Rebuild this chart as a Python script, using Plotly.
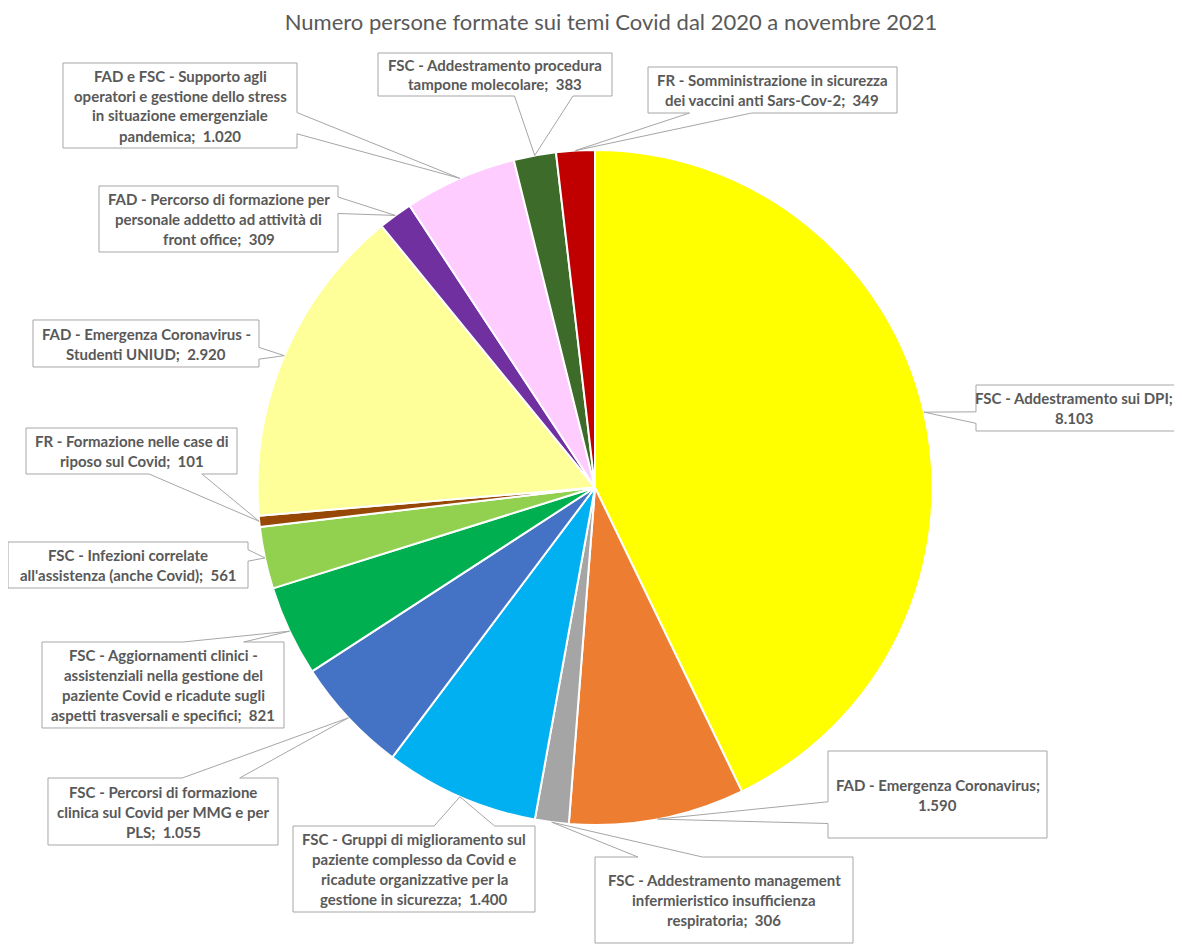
import math
import plotly.graph_objects as go

# ---------------- data ----------------
categories = [
    "FSC - Addestramento sui DPI",
    "FAD - Emergenza Coronavirus",
    "FSC - Addestramento management infermieristico insufficienza respiratoria",
    "FSC - Gruppi di miglioramento sul paziente complesso da Covid e ricadute organizzative per la gestione in sicurezza",
    "FSC - Percorsi di formazione clinica sul Covid per MMG e per PLS",
    "FSC - Aggiornamenti clinici - assistenziali nella gestione del paziente Covid e ricadute sugli aspetti trasversali e specifici",
    "FSC - Infezioni correlate all'assistenza (anche Covid)",
    "FR - Formazione nelle case di riposo sul Covid",
    "FAD - Emergenza Coronavirus - Studenti UNIUD",
    "FAD - Percorso di formazione per personale addetto ad attività di front office",
    "FAD e FSC - Supporto agli operatori e gestione dello stress in situazione emergenziale pandemica",
    "FSC - Addestramento procedura tampone molecolare",
    "FR - Somministrazione in sicurezza dei vaccini anti Sars-Cov-2",
]
values = [8103, 1590, 306, 1400, 1055, 821, 561, 101, 2920, 309, 1020, 383, 349]

# label wrapping (text lines of each callout); "{v}" is replaced by the value
label_lines = [
    ["FSC - Addestramento sui DPI;", "{v}"],
    ["FAD - Emergenza Coronavirus;", "{v}"],
    ["FSC - Addestramento management", "infermieristico insufficienza", "respiratoria;  {v}"],
    ["FSC - Gruppi di miglioramento sul", "paziente complesso da Covid e", "ricadute organizzative per la", "gestione in sicurezza;  {v}"],
    ["FSC - Percorsi di formazione", "clinica sul Covid per MMG e per", "PLS;  {v}"],
    ["FSC - Aggiornamenti clinici -", "assistenziali nella gestione del", "paziente Covid e ricadute sugli", "aspetti trasversali e specifici;  {v}"],
    ["FSC - Infezioni correlate", "all'assistenza (anche Covid);  {v}"],
    ["FR - Formazione nelle case di", "riposo sul Covid;  {v}"],
    ["FAD - Emergenza Coronavirus -", "Studenti UNIUD;  {v}"],
    ["FAD - Percorso di formazione per", "personale addetto ad attività di", "front office;  {v}"],
    ["FAD e FSC - Supporto agli", "operatori e gestione dello stress", "in situazione emergenziale", "pandemica;  {v}"],
    ["FSC - Addestramento procedura", "tampone molecolare;  {v}"],
    ["FR - Somministrazione in sicurezza", "dei vaccini anti Sars-Cov-2;  {v}"],
]

title_text = "Numero persone formate sui temi Covid dal 2020 a novembre 2021"

# ---------------- styles / layout ----------------
colors = ["#FFFF00", "#ED7D31", "#A5A5A5", "#00B0F0", "#4472C4", "#00B050",
          "#92D050", "#974706", "#FFFF99", "#7030A0", "#FFCCFF", "#3D6B2A", "#C00000"]

W, H = 1182, 948
OFF = 8  # page body margin: the figure starts 8px in from the top-left of the window
CX, CY, R = 595.0, 487.5, 337.5  # pie centre / radius in window pixels

# callout boxes (x0, y0, x1, y1) in window pixels, top-left origin
boxes = [
    (976, 385, 1192, 431),
    (828, 751, 1047, 838),
    (595, 857, 853, 943),
    (293, 826, 535, 912),
    (48, 778, 278, 845),
    (42, 642, 284, 728),
    (8, 542, 248, 588),
    (26, 428, 237, 474),
    (33, 320, 259, 367),
    (99, 186, 338, 252),
    (63, 63, 297, 148),
    (378, 53, 612, 96),
    (648, 67, 897, 113),
]
# horizontal nudge of the text inside a box (pixels)
text_dx = [-10, 0, 0, 0, 0, 0, 0, 0, 0, 0, 0, 0, 0]

LINE_H = 20
TEXT_COLOR = "#595959"
BORDER = "#A6A6A6"


def fmt(v):
    return f"{v:,}".replace(",", ".")


def px(x):
    return (x - OFF) / W


def py(y):
    return 1 - (y - OFF) / H


def callout_path(x0, y0, x1, y1, tx, ty):
    w, h = x1 - x0, y1 - y0
    cx, cy = (x0 + x1) / 2, (y0 + y1) / 2
    dx, dy = (tx - cx) / w, (ty - cy) / h
    if x0 <= tx <= x1 and y0 <= ty <= y1:
        pts = [(x0, y0), (x1, y0), (x1, y1), (x0, y1)]
    elif abs(dx) > abs(dy):
        fa, fb = (7 / 12, 10 / 12) if dy > 0 else (2 / 12, 5 / 12)
        ya, yb = y0 + h * fa, y0 + h * fb
        if dx > 0:
            pts = [(x0, y0), (x1, y0), (x1, ya), (tx, ty), (x1, yb), (x1, y1), (x0, y1)]
        else:
            pts = [(x0, y0), (x1, y0), (x1, y1), (x0, y1), (x0, yb), (tx, ty), (x0, ya)]
    else:
        fa, fb = (7 / 12, 10 / 12) if dx > 0 else (2 / 12, 5 / 12)
        xa, xb = x0 + w * fa, x0 + w * fb
        if dy > 0:
            pts = [(x0, y0), (x1, y0), (x1, y1), (xb, y1), (tx, ty), (xa, y1), (x0, y1)]
        else:
            pts = [(x0, y0), (xa, y0), (tx, ty), (xb, y0), (x1, y0), (x1, y1), (x0, y1)]
    return "M " + " L ".join(f"{px(a):.5f},{py(b):.5f}" for a, b in pts) + " Z"


fig = go.Figure()
fig.add_trace(go.Pie(
    labels=categories,
    values=values,
    sort=False,
    direction="clockwise",
    rotation=0,
    marker=dict(colors=colors, line=dict(color="white", width=2)),
    textinfo="none",
    hoverinfo="label+value",
    showlegend=False,
    domain=dict(x=[px(CX - R), px(CX + R)], y=[py(CY + R), py(CY - R)]),
))

total = sum(values)
shapes = []
annotations = []
cum = 0
for i, v in enumerate(values):
    mid = (cum + v / 2) / total * 2 * math.pi
    cum += v
    tx = CX + R * math.sin(mid)
    ty = CY - R * math.cos(mid)
    x0, y0, x1, y1 = boxes[i]
    shapes.append(dict(type="path", xref="paper", yref="paper",
                       path=callout_path(x0, y0, x1, y1, tx, ty),
                       fillcolor="white", line=dict(color=BORDER, width=1), layer="above"))
    lines = [s.replace("{v}", fmt(v)) for s in label_lines[i]]
    n = len(lines)
    cxb, cyb = (x0 + x1) / 2 + text_dx[i], (y0 + y1) / 2
    for j, ln in enumerate(lines):
        yl = cyb + (j - (n - 1) / 2) * LINE_H
        annotations.append(dict(
            x=px(cxb), y=py(yl), xref="paper", yref="paper",
            xanchor="center", yanchor="middle", showarrow=False,
            text=ln, font=dict(family="Lato", size=15, color=TEXT_COLOR, weight="bold"),
        ))

fig.update_layout(
    width=W, height=H,
    margin=dict(l=0, r=0, t=0, b=0),
    paper_bgcolor="white",
    plot_bgcolor="white",
    title=dict(text=title_text, x=px(611), y=py(22), xref="paper", yref="container",
               xanchor="center", yanchor="middle",
               font=dict(family="Lato", size=22, color=TEXT_COLOR)),
    shapes=shapes,
    annotations=annotations,
)

fig.write_html("out.html")
